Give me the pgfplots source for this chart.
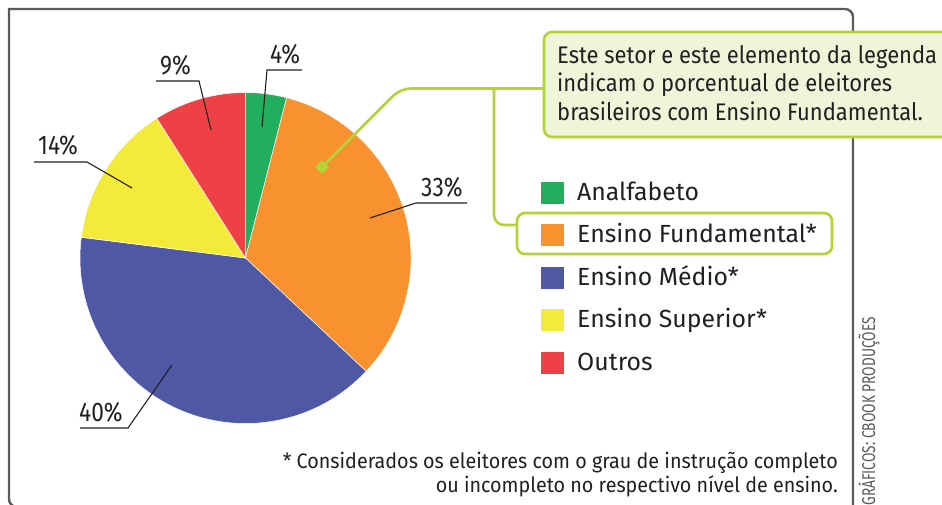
\documentclass[border=0pt]{standalone}
\usepackage{pgfplots}
\pgfplotsset{compat=1.18}
\usepackage{fontspec}
\setmainfont{Fira Sans}
\definecolor{cGreen}{HTML}{22AE5F}
\definecolor{cOrange}{HTML}{F7922F}
\definecolor{cBlue}{HTML}{4F58A5}
\definecolor{cYellow}{HTML}{F3EA3A}
\definecolor{cRed}{HTML}{EE4145}
\definecolor{cLime}{HTML}{B5D334}
\definecolor{cLimeFill}{HTML}{EFF5D8}
\definecolor{cFrame}{HTML}{5A5A5A}
\definecolor{cText}{HTML}{231F20}
\def\piedata{4/cGreen,33/cOrange,40/cBlue,14/cYellow,9/cRed}
\begin{document}
\begin{tikzpicture}
\path[use as bounding box, clip] (0,0) rectangle (942pt,505pt);
\begin{axis}[at={(0,0)}, anchor=south west, scale only axis,
  width=942pt, height=505pt, xmin=0, xmax=942, ymin=-505, ymax=0,
  hide axis, clip=false, disabledatascaling]
% frame
\draw[cFrame, line width=2.4pt] (axis cs:40,-507) [rounded corners=8pt] -- (axis cs:9,-507) -- (axis cs:9,-300) [sharp corners] -- (axis cs:9,-9) -- (axis cs:400,-9) [rounded corners=8pt] -- (axis cs:853,-9) -- (axis cs:853,-300) -- (axis cs:853,-520);
% pie
\pgfplotsextra{%
  \gdef\curang{90}%
  \foreach \v/\c in \piedata {%
    \pgfmathsetmacro\endang{\curang-3.6*\v}%
    \fill[\c, draw=white, line width=0.5pt] (axis cs:245.5,-258) -- ++(\curang:165.5pt) arc[start angle=\curang, end angle=\endang, radius=165.5pt] -- cycle;
    \xdef\curang{\endang}%
  }%
}
% leader lines
\draw[cText, line width=1.1pt] (axis cs:262,-127) -- (axis cs:267,-70) -- (axis cs:302,-70);
\draw[cText, line width=1.1pt] (axis cs:211,-130) -- (axis cs:199,-81) -- (axis cs:156,-81);
\draw[cText, line width=1.1pt] (axis cs:132,-188) -- (axis cs:87,-162) -- (axis cs:34,-162);
\draw[cText, line width=1.1pt] (axis cs:370,-218) -- (axis cs:416,-203) -- (axis cs:467,-203);
\draw[cText, line width=1.1pt] (axis cs:172,-365) -- (axis cs:128,-428) -- (axis cs:80,-428);
% percent labels
\tikzset{pct/.style={anchor=base west, inner sep=0pt, text=cText, font=\fontsize{27}{30}\selectfont}}
\node[pct] at (axis cs:270,-63.3) {\scalebox{0.84}[1]{4\%}};
\node[pct] at (axis cs:160,-75) {\scalebox{0.84}[1]{9\%}};
\node[pct] at (axis cs:38,-154) {\scalebox{0.84}[1]{14\%}};
\node[pct] at (axis cs:421,-196.7) {\scalebox{0.84}[1]{33\%}};
\node[pct] at (axis cs:79,-421.7) {\scalebox{0.84}[1]{40\%}};
% connector
\draw[cLime, line width=2.6pt, rounded corners=10pt] (axis cs:545,-88.5) -- (axis cs:400.5,-88.5) -- (axis cs:322,-167);
\draw[cLime, line width=2.6pt, rounded corners=10pt] (axis cs:494,-88.5) -- (axis cs:494,-225) -- (axis cs:518,-225);
\fill[cLime] (axis cs:322,-160) -- (axis cs:329,-167) -- (axis cs:322,-174) -- (axis cs:315,-167) -- cycle;
% callout box
\draw[cLime, fill=cLimeFill, line width=2.6pt, rounded corners=8pt] (axis cs:544,-32) rectangle (axis cs:955,-137);
\tikzset{call/.style={anchor=base west, inner sep=0pt, text=cText, font=\fontsize{24}{28}\selectfont}}
\node[call] at (axis cs:557,-63.3) {\scalebox{0.915}[1]{Este setor e este elemento da legenda}};
\node[call] at (axis cs:557,-92) {\scalebox{0.915}[1]{indicam o porcentual de eleitores}};
\node[call] at (axis cs:557,-120.7) {\scalebox{0.915}[1]{brasileiros com Ensino Fundamental.}};
% highlight box
\draw[cLime, fill=white, line width=2.6pt, rounded corners=8pt] (axis cs:517,-213) rectangle (axis cs:832,-254);
% legend
\fill[cGreen]  (axis cs:541,-181.5) rectangle (axis cs:564,-203.5);
\fill[cOrange] (axis cs:541,-224)   rectangle (axis cs:564,-246);
\fill[cBlue]   (axis cs:541,-266.5) rectangle (axis cs:564,-288.5);
\fill[cYellow] (axis cs:541,-309)   rectangle (axis cs:564,-331);
\fill[cRed]    (axis cs:541,-351.5) rectangle (axis cs:564,-373.5);
\tikzset{leg/.style={anchor=base west, inner sep=0pt, text=cText, font=\fontsize{24.8}{28}\selectfont}}
\node[leg] at (axis cs:577,-200) {Analfabeto};
\node[leg] at (axis cs:577,-242.5) {Ensino Fundamental*};
\node[leg] at (axis cs:577,-285) {Ensino Médio*};
\node[leg] at (axis cs:577,-327.5) {Ensino Superior*};
\node[leg] at (axis cs:577,-370) {Outros};
% footnote
\tikzset{foot/.style={anchor=base east, inner sep=0pt, text=cText, font=\fontsize{21}{24}\selectfont}}
\node[foot] at (axis cs:838,-468) {\scalebox{0.94}[1]{* Considerados os eleitores com o grau de instrução completo}};
\node[foot] at (axis cs:838,-492) {\scalebox{0.94}[1]{ou incompleto no respectivo nível de ensino.}};
% credit
\node[rotate=90, anchor=base east, inner sep=0pt, text=cFrame, font=\fontsize{18.5}{20}\selectfont] at (axis cs:875,-317) {\scalebox{0.74}[1]{GRÁFICOS: CBOOK PRODUÇÕES}};
\end{axis}
\end{tikzpicture}
\end{document}
